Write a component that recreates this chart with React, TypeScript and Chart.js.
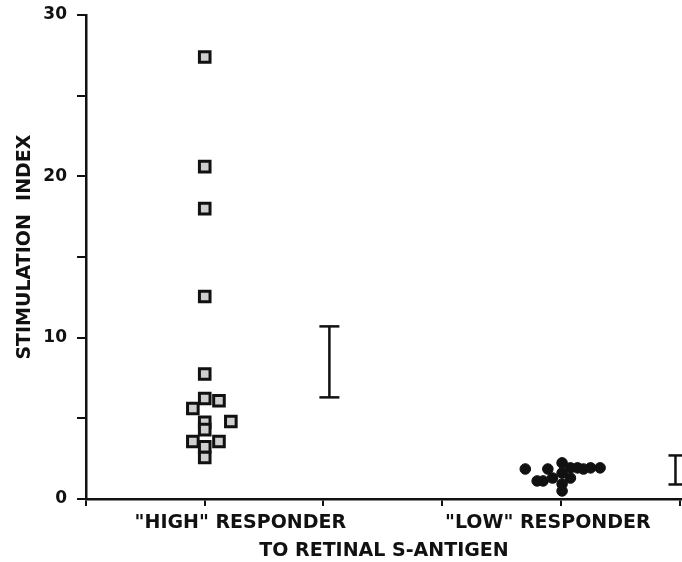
import React, { useEffect, useRef } from "react";
import { Chart, registerables } from "chart.js";

Chart.register(...registerables);

// Group positions along the x axis
const groupLabels = ['"HIGH" RESPONDER', '"LOW" RESPONDER'];
const groupLabelPos = [1.3, 3.89];
const xTickValues = [0, 1, 2, 3, 4, 5];

// "High" responders (open squares)
const highX = [1.0, 1.0, 1.0, 1.0, 1.0, 1.0, 1.12, 0.9, 1.22, 1.0, 1.0, 0.9, 1.0, 1.12, 1.0];
const highY = [27.4, 20.6, 18.0, 12.55, 7.75, 6.23, 6.09, 5.61, 4.8, 4.75, 4.3, 3.56, 3.23, 3.56, 2.57];

// "Low" responders (filled dots)
const lowX = [3.7, 3.8, 3.85, 3.89, 3.93, 4.01, 4.01, 4.01, 4.01, 4.08, 4.08, 4.14, 4.19, 4.25, 4.33];
const lowY = [1.86, 1.12, 1.12, 1.86, 1.3, 2.24, 1.61, 0.93, 0.5, 1.93, 1.3, 1.93, 1.86, 1.93, 1.93];

// Mean ± SEM bars
const errX = [2.05, 4.965];
const errTop = [10.7, 2.7];
const errBottom = [6.3, 0.9];
const errCap = [10, 7];

const yTickStep = 5;
const INK = "#111";
const FONT = "'DejaVu Sans', 'Liberation Sans', Arial, sans-serif";

export default function App() {
  const ref = useRef<HTMLCanvasElement | null>(null);

  useEffect(() => {
    if (!ref.current) return;
    const errDatasets = errX.map((x, i) => ({
      type: "line" as const,
      data: [
        { x, y: errTop[i] },
        { x, y: errBottom[i] },
      ],
      borderColor: INK,
      borderWidth: 2.5,
      pointStyle: "line" as const,
      pointRadius: errCap[i],
      pointBorderWidth: 2.5,
      pointBorderColor: INK,
      showLine: true,
    }));

    const chart = new Chart(ref.current, {
      type: "scatter",
      data: {
        datasets: [
          {
            data: highX.map((x, i) => ({ x, y: highY[i] })),
            pointStyle: "rect",
            pointRadius: 7.5,
            pointBorderWidth: 3,
            borderColor: INK,
            backgroundColor: "#cfcfcf",
          },
          {
            data: lowX.map((x, i) => ({ x, y: lowY[i] })),
            pointStyle: "circle",
            pointRadius: 5.3,
            pointBorderWidth: 1,
            borderColor: INK,
            backgroundColor: INK,
          },
          ...errDatasets,
        ] as any,
      },
      options: {
        animation: false,
        responsive: true,
        maintainAspectRatio: false,
        layout: { autoPadding: false, padding: { top: 15, right: 0, left: 0, bottom: 0 } },
        plugins: { legend: { display: false }, tooltip: { enabled: false } },
        scales: {
          x: {
            type: "linear",
            min: 0,
            max: 5.02,
            afterBuildTicks: (scale: any) => {
              const vals = [...xTickValues, ...groupLabelPos].sort((a, b) => a - b);
              scale.ticks = vals.map((v) => ({ value: v }));
            },
            afterFit: (scale: any) => {
              scale.height = 63;
              scale.paddingLeft = 0;
              scale.paddingRight = 0;
            },
            ticks: {
              autoSkip: false,
              maxRotation: 0,
              padding: 6,
              color: INK,
              font: { family: FONT, size: 19, weight: "bold" },
              callback: (v: any) => {
                const idx = groupLabelPos.indexOf(Number(v));
                return idx >= 0 ? groupLabels[idx] : "";
              },
            },
            grid: {
              drawOnChartArea: false,
              tickLength: 7,
              lineWidth: 2,
              tickColor: (ctx: any) =>
                ctx.tick && groupLabelPos.indexOf(ctx.tick.value) >= 0 ? "rgba(0,0,0,0)" : INK,
            },
            border: { color: INK, width: 2.5 },
            title: {
              display: true,
              text: "TO RETINAL S-ANTIGEN",
              color: INK,
              font: { family: FONT, size: 19, weight: "bold" },
              padding: { top: 0, bottom: 0 },
            },
          },
          y: {
            type: "linear",
            min: 0,
            max: 30,
            afterFit: (scale: any) => {
              scale.width = 86;
              scale.paddingTop = 0;
              scale.paddingBottom = 0;
            },
            ticks: {
              stepSize: yTickStep,
              padding: 10,
              color: INK,
              font: { family: FONT, size: 17, weight: "bold" },
              callback: (v: any) => (Number(v) % 10 === 0 ? String(v) : ""),
            },
            grid: {
              drawOnChartArea: false,
              tickLength: 9,
              lineWidth: 2,
              tickColor: INK,
            },
            border: { color: INK, width: 2.5 },
            title: {
              display: true,
              text: "   STIMULATION  INDEX",
              color: INK,
              font: { family: FONT, size: 19, weight: "bold" },
              padding: { top: 14, bottom: 0 },
            },
          },
        },
      },
    });
    return () => chart.destroy();
  }, []);

  return (
    <div style={{ position: "absolute", left: 0, top: 0, width: 682, height: 562, background: "#fff" }}>
      <canvas ref={ref} />
    </div>
  );
}
